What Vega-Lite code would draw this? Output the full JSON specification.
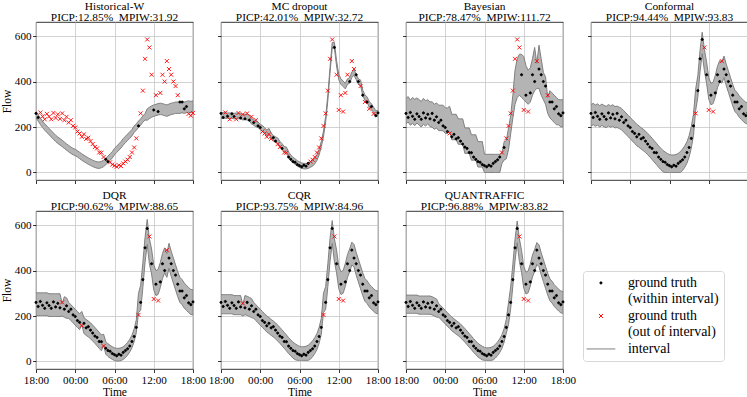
{
"$schema":"https://vega.github.io/schema/vega-lite/v6.json",
"padding":{"left":0,"top":0,"right":0,"bottom":0},
"config":{
 "font":"Liberation Serif",
 "view":{"stroke":"#000000","strokeWidth":0.8},
 "axis":{"domain":false,"grid":true,"gridColor":"#c8c8c8","gridWidth":0.8,"tickColor":"#000000","tickSize":3.5,"tickWidth":0.8,"labelFont":"Liberation Serif","labelFontSize":11.1,"labelColor":"#000000","labelPadding":1.5,"titleFont":"Liberation Serif","titleFontSize":11.5,"titleFontWeight":"normal","titleColor":"#000000"},
 "axisX":{"labelExpr":"['18:00','00:00','06:00','12:00','18:00'][round(datum.value/360)]","titlePadding":1,"labelFlush":false,"labelFont":"Liberation Serif"},
 "axisY":{"titlePadding":2,"labelFont":"Liberation Serif"},
 "title":{"font":"Liberation Serif","fontSize":11.4,"fontWeight":"normal","color":"#000000","lineHeight":11,"offset":-1,"anchor":"middle"},
 "legend":{"orient":"none","legendX":547,"legendY":249,"strokeColor":"#d8d8d8","fillColor":"#ffffff","cornerRadius":3,"padding":5,"labelFont":"Liberation Serif","labelFontSize":13.9,"labelColor":"#000000","symbolSize":16,"symbolStrokeWidth":1,"symbolOffset":6,"labelOffset":20,"rowPadding":2,"labelLimit":0,"title":null}
},
"data":{"values":[
{"m":"H","t":0,"y":260,"l":241,"u":269,"s":"i"},{"m":"H","t":20,"y":242,"l":226,"u":254,"s":"i"},{"m":"H","t":40,"y":264,"l":211,"u":239,"s":"o"},{"m":"H","t":60,"y":247,"l":198,"u":226,"s":"o"},{"m":"H","t":80,"y":234,"l":186,"u":214,"s":"o"},{"m":"H","t":100,"y":258,"l":176,"u":204,"s":"o"},{"m":"H","t":120,"y":246,"l":166,"u":194,"s":"o"},{"m":"H","t":140,"y":234,"l":156,"u":184,"s":"o"},{"m":"H","t":160,"y":262,"l":146,"u":174,"s":"o"},{"m":"H","t":180,"y":240,"l":136,"u":164,"s":"o"},{"m":"H","t":200,"y":256,"l":128,"u":156,"s":"o"},{"m":"H","t":220,"y":236,"l":121,"u":149,"s":"o"},{"m":"H","t":240,"y":260,"l":114,"u":142,"s":"o"},{"m":"H","t":260,"y":230,"l":106,"u":134,"s":"o"},{"m":"H","t":280,"y":245,"l":98,"u":126,"s":"o"},{"m":"H","t":300,"y":220,"l":91,"u":119,"s":"o"},{"m":"H","t":320,"y":230,"l":84,"u":112,"s":"o"},{"m":"H","t":340,"y":205,"l":78,"u":106,"s":"o"},{"m":"H","t":360,"y":198,"l":74,"u":102,"s":"o"},{"m":"H","t":380,"y":180,"l":68,"u":96,"s":"o"},{"m":"H","t":400,"y":172,"l":61,"u":89,"s":"o"},{"m":"H","t":420,"y":157,"l":54,"u":82,"s":"o"},{"m":"H","t":440,"y":168,"l":48,"u":76,"s":"o"},{"m":"H","t":460,"y":148,"l":42,"u":70,"s":"o"},{"m":"H","t":480,"y":153,"l":36,"u":64,"s":"o"},{"m":"H","t":500,"y":138,"l":31,"u":59,"s":"o"},{"m":"H","t":520,"y":125,"l":26,"u":54,"s":"o"},{"m":"H","t":540,"y":112,"l":22,"u":50,"s":"o"},{"m":"H","t":560,"y":106,"l":19,"u":47,"s":"o"},{"m":"H","t":580,"y":88,"l":18,"u":46,"s":"o"},{"m":"H","t":600,"y":87,"l":21,"u":49,"s":"o"},{"m":"H","t":620,"y":68,"l":26,"u":54,"s":"o"},{"m":"H","t":640,"y":58,"l":34,"u":62,"s":"i"},{"m":"H","t":660,"y":48,"l":44,"u":72,"s":"i"},{"m":"H","t":680,"y":45,"l":54,"u":82,"s":"o"},{"m":"H","t":700,"y":35,"l":64,"u":92,"s":"o"},{"m":"H","t":720,"y":30,"l":78,"u":106,"s":"o"},{"m":"H","t":740,"y":25,"l":88,"u":116,"s":"o"},{"m":"H","t":760,"y":32,"l":98,"u":126,"s":"o"},{"m":"H","t":780,"y":28,"l":108,"u":136,"s":"o"},{"m":"H","t":800,"y":40,"l":121,"u":149,"s":"o"},{"m":"H","t":820,"y":48,"l":131,"u":159,"s":"o"},{"m":"H","t":840,"y":56,"l":141,"u":169,"s":"o"},{"m":"H","t":860,"y":68,"l":151,"u":179,"s":"o"},{"m":"H","t":880,"y":88,"l":161,"u":189,"s":"o"},{"m":"H","t":900,"y":110,"l":176,"u":204,"s":"o"},{"m":"H","t":920,"y":150,"l":186,"u":214,"s":"o"},{"m":"H","t":940,"y":205,"l":198,"u":226,"s":"i"},{"m":"H","t":960,"y":260,"l":208,"u":236,"s":"o"},{"m":"H","t":980,"y":360,"l":221,"u":249,"s":"o"},{"m":"H","t":1000,"y":500,"l":231,"u":259,"s":"o"},{"m":"H","t":1020,"y":585,"l":230,"u":280,"s":"o"},{"m":"H","t":1040,"y":550,"l":237,"u":287,"s":"o"},{"m":"H","t":1060,"y":430,"l":243,"u":293,"s":"o"},{"m":"H","t":1080,"y":275,"l":247,"u":297,"s":"i"},{"m":"H","t":1100,"y":340,"l":250,"u":300,"s":"o"},{"m":"H","t":1120,"y":268,"l":253,"u":303,"s":"i"},{"m":"H","t":1140,"y":350,"l":255,"u":305,"s":"o"},{"m":"H","t":1160,"y":430,"l":253,"u":303,"s":"o"},{"m":"H","t":1180,"y":400,"l":250,"u":300,"s":"o"},{"m":"H","t":1200,"y":490,"l":247,"u":297,"s":"o"},{"m":"H","t":1220,"y":455,"l":251,"u":301,"s":"o"},{"m":"H","t":1240,"y":430,"l":255,"u":305,"s":"o"},{"m":"H","t":1260,"y":400,"l":257,"u":307,"s":"o"},{"m":"H","t":1280,"y":380,"l":260,"u":310,"s":"o"},{"m":"H","t":1300,"y":340,"l":260,"u":310,"s":"o"},{"m":"H","t":1320,"y":310,"l":260,"u":310,"s":"i"},{"m":"H","t":1340,"y":310,"l":263,"u":313,"s":"i"},{"m":"H","t":1360,"y":280,"l":260,"u":310,"s":"i"},{"m":"H","t":1380,"y":290,"l":263,"u":313,"s":"i"},{"m":"H","t":1400,"y":258,"l":265,"u":315,"s":"o"},{"m":"H","t":1420,"y":250,"l":263,"u":313,"s":"o"},{"m":"H","t":1440,"y":262,"l":265,"u":315,"s":"o"},
{"m":"M","t":0,"y":260,"l":238,"u":262,"s":"i"},{"m":"M","t":20,"y":242,"l":240,"u":264,"s":"i"},{"m":"M","t":40,"y":264,"l":238,"u":262,"s":"o"},{"m":"M","t":60,"y":247,"l":238,"u":262,"s":"i"},{"m":"M","t":80,"y":234,"l":238,"u":262,"s":"o"},{"m":"M","t":100,"y":258,"l":238,"u":262,"s":"i"},{"m":"M","t":120,"y":246,"l":236,"u":260,"s":"i"},{"m":"M","t":140,"y":234,"l":238,"u":262,"s":"o"},{"m":"M","t":160,"y":262,"l":236,"u":260,"s":"o"},{"m":"M","t":180,"y":240,"l":236,"u":260,"s":"i"},{"m":"M","t":200,"y":256,"l":231,"u":255,"s":"o"},{"m":"M","t":220,"y":236,"l":233,"u":257,"s":"i"},{"m":"M","t":240,"y":260,"l":231,"u":255,"s":"o"},{"m":"M","t":260,"y":230,"l":228,"u":252,"s":"i"},{"m":"M","t":280,"y":245,"l":213,"u":237,"s":"o"},{"m":"M","t":300,"y":220,"l":208,"u":232,"s":"i"},{"m":"M","t":320,"y":230,"l":201,"u":225,"s":"o"},{"m":"M","t":340,"y":205,"l":198,"u":222,"s":"i"},{"m":"M","t":360,"y":198,"l":188,"u":212,"s":"i"},{"m":"M","t":380,"y":180,"l":183,"u":207,"s":"o"},{"m":"M","t":400,"y":172,"l":173,"u":197,"s":"o"},{"m":"M","t":420,"y":157,"l":163,"u":187,"s":"o"},{"m":"M","t":440,"y":168,"l":170,"u":194,"s":"o"},{"m":"M","t":460,"y":148,"l":150,"u":174,"s":"o"},{"m":"M","t":480,"y":153,"l":138,"u":162,"s":"i"},{"m":"M","t":500,"y":138,"l":133,"u":157,"s":"i"},{"m":"M","t":520,"y":125,"l":128,"u":152,"s":"o"},{"m":"M","t":540,"y":112,"l":113,"u":137,"s":"o"},{"m":"M","t":560,"y":106,"l":103,"u":127,"s":"i"},{"m":"M","t":580,"y":88,"l":90,"u":114,"s":"o"},{"m":"M","t":600,"y":87,"l":88,"u":112,"s":"o"},{"m":"M","t":620,"y":68,"l":66,"u":90,"s":"i"},{"m":"M","t":640,"y":58,"l":53,"u":77,"s":"i"},{"m":"M","t":660,"y":48,"l":43,"u":67,"s":"i"},{"m":"M","t":680,"y":45,"l":36,"u":60,"s":"i"},{"m":"M","t":700,"y":35,"l":28,"u":52,"s":"i"},{"m":"M","t":720,"y":30,"l":23,"u":47,"s":"i"},{"m":"M","t":740,"y":25,"l":18,"u":42,"s":"i"},{"m":"M","t":760,"y":32,"l":16,"u":40,"s":"i"},{"m":"M","t":780,"y":28,"l":16,"u":40,"s":"i"},{"m":"M","t":800,"y":40,"l":18,"u":42,"s":"i"},{"m":"M","t":820,"y":48,"l":23,"u":47,"s":"o"},{"m":"M","t":840,"y":56,"l":28,"u":52,"s":"o"},{"m":"M","t":860,"y":68,"l":38,"u":62,"s":"o"},{"m":"M","t":880,"y":88,"l":53,"u":77,"s":"o"},{"m":"M","t":900,"y":110,"l":78,"u":102,"s":"o"},{"m":"M","t":920,"y":150,"l":113,"u":137,"s":"o"},{"m":"M","t":940,"y":205,"l":158,"u":182,"s":"o"},{"m":"M","t":960,"y":260,"l":223,"u":247,"s":"o"},{"m":"M","t":980,"y":360,"l":318,"u":342,"s":"o"},{"m":"M","t":1000,"y":500,"l":438,"u":462,"s":"o"},{"m":"M","t":1020,"y":585,"l":548,"u":572,"s":"o"},{"m":"M","t":1040,"y":550,"l":548,"u":572,"s":"i"},{"m":"M","t":1060,"y":430,"l":468,"u":492,"s":"o"},{"m":"M","t":1080,"y":275,"l":408,"u":432,"s":"o"},{"m":"M","t":1100,"y":340,"l":388,"u":412,"s":"o"},{"m":"M","t":1120,"y":268,"l":378,"u":402,"s":"o"},{"m":"M","t":1140,"y":350,"l":368,"u":392,"s":"o"},{"m":"M","t":1160,"y":430,"l":388,"u":412,"s":"o"},{"m":"M","t":1180,"y":400,"l":393,"u":417,"s":"i"},{"m":"M","t":1200,"y":490,"l":418,"u":442,"s":"o"},{"m":"M","t":1220,"y":455,"l":428,"u":452,"s":"o"},{"m":"M","t":1240,"y":430,"l":408,"u":432,"s":"i"},{"m":"M","t":1260,"y":400,"l":388,"u":412,"s":"i"},{"m":"M","t":1280,"y":380,"l":383,"u":407,"s":"o"},{"m":"M","t":1300,"y":340,"l":338,"u":362,"s":"i"},{"m":"M","t":1320,"y":310,"l":318,"u":342,"s":"o"},{"m":"M","t":1340,"y":310,"l":308,"u":332,"s":"i"},{"m":"M","t":1360,"y":280,"l":288,"u":312,"s":"o"},{"m":"M","t":1380,"y":290,"l":278,"u":302,"s":"i"},{"m":"M","t":1400,"y":258,"l":263,"u":287,"s":"o"},{"m":"M","t":1420,"y":250,"l":248,"u":272,"s":"i"},{"m":"M","t":1440,"y":262,"l":248,"u":272,"s":"i"},
{"m":"B","t":0,"y":260,"l":214,"u":326,"s":"i"},{"m":"B","t":20,"y":242,"l":222,"u":334,"s":"i"},{"m":"B","t":40,"y":264,"l":208,"u":318,"s":"i"},{"m":"B","t":60,"y":247,"l":216,"u":330,"s":"i"},{"m":"B","t":80,"y":234,"l":206,"u":322,"s":"i"},{"m":"B","t":100,"y":258,"l":218,"u":328,"s":"i"},{"m":"B","t":120,"y":246,"l":209,"u":321,"s":"i"},{"m":"B","t":140,"y":234,"l":200,"u":312,"s":"i"},{"m":"B","t":160,"y":262,"l":212,"u":326,"s":"i"},{"m":"B","t":180,"y":240,"l":205,"u":316,"s":"i"},{"m":"B","t":200,"y":256,"l":214,"u":320,"s":"i"},{"m":"B","t":220,"y":236,"l":202,"u":310,"s":"i"},{"m":"B","t":240,"y":260,"l":199,"u":311,"s":"i"},{"m":"B","t":260,"y":230,"l":190,"u":300,"s":"i"},{"m":"B","t":280,"y":245,"l":196,"u":306,"s":"i"},{"m":"B","t":300,"y":220,"l":184,"u":296,"s":"i"},{"m":"B","t":320,"y":230,"l":184,"u":296,"s":"i"},{"m":"B","t":340,"y":205,"l":184,"u":296,"s":"i"},{"m":"B","t":360,"y":198,"l":172,"u":284,"s":"i"},{"m":"B","t":380,"y":180,"l":172,"u":284,"s":"i"},{"m":"B","t":400,"y":172,"l":179,"u":291,"s":"o"},{"m":"B","t":420,"y":157,"l":144,"u":256,"s":"i"},{"m":"B","t":440,"y":168,"l":144,"u":256,"s":"i"},{"m":"B","t":460,"y":148,"l":144,"u":256,"s":"i"},{"m":"B","t":480,"y":153,"l":124,"u":236,"s":"i"},{"m":"B","t":500,"y":138,"l":124,"u":236,"s":"i"},{"m":"B","t":520,"y":125,"l":124,"u":236,"s":"i"},{"m":"B","t":540,"y":112,"l":84,"u":196,"s":"i"},{"m":"B","t":560,"y":106,"l":84,"u":196,"s":"i"},{"m":"B","t":580,"y":88,"l":84,"u":196,"s":"i"},{"m":"B","t":600,"y":87,"l":54,"u":166,"s":"i"},{"m":"B","t":620,"y":68,"l":54,"u":166,"s":"i"},{"m":"B","t":640,"y":58,"l":54,"u":166,"s":"i"},{"m":"B","t":660,"y":48,"l":24,"u":136,"s":"i"},{"m":"B","t":680,"y":45,"l":24,"u":136,"s":"i"},{"m":"B","t":700,"y":35,"l":24,"u":136,"s":"i"},{"m":"B","t":720,"y":30,"l":0,"u":80,"s":"i"},{"m":"B","t":740,"y":25,"l":0,"u":80,"s":"i"},{"m":"B","t":760,"y":32,"l":0,"u":80,"s":"i"},{"m":"B","t":780,"y":28,"l":0,"u":80,"s":"i"},{"m":"B","t":800,"y":40,"l":0,"u":80,"s":"i"},{"m":"B","t":820,"y":48,"l":0,"u":80,"s":"i"},{"m":"B","t":840,"y":56,"l":0,"u":80,"s":"i"},{"m":"B","t":860,"y":68,"l":0,"u":80,"s":"i"},{"m":"B","t":880,"y":88,"l":40,"u":85,"s":"o"},{"m":"B","t":900,"y":110,"l":55,"u":135,"s":"i"},{"m":"B","t":920,"y":150,"l":60,"u":140,"s":"o"},{"m":"B","t":940,"y":205,"l":100,"u":195,"s":"o"},{"m":"B","t":960,"y":260,"l":170,"u":250,"s":"o"},{"m":"B","t":980,"y":360,"l":240,"u":340,"s":"o"},{"m":"B","t":1000,"y":500,"l":300,"u":450,"s":"o"},{"m":"B","t":1020,"y":585,"l":330,"u":500,"s":"o"},{"m":"B","t":1040,"y":550,"l":340,"u":520,"s":"o"},{"m":"B","t":1060,"y":430,"l":330,"u":520,"s":"i"},{"m":"B","t":1080,"y":275,"l":320,"u":510,"s":"o"},{"m":"B","t":1100,"y":340,"l":310,"u":470,"s":"i"},{"m":"B","t":1120,"y":268,"l":300,"u":450,"s":"o"},{"m":"B","t":1140,"y":350,"l":310,"u":460,"s":"i"},{"m":"B","t":1160,"y":430,"l":340,"u":500,"s":"i"},{"m":"B","t":1180,"y":400,"l":360,"u":550,"s":"i"},{"m":"B","t":1200,"y":490,"l":370,"u":480,"s":"o"},{"m":"B","t":1220,"y":455,"l":370,"u":560,"s":"i"},{"m":"B","t":1240,"y":430,"l":340,"u":500,"s":"i"},{"m":"B","t":1260,"y":400,"l":320,"u":440,"s":"i"},{"m":"B","t":1280,"y":380,"l":300,"u":420,"s":"i"},{"m":"B","t":1300,"y":340,"l":260,"u":330,"s":"o"},{"m":"B","t":1320,"y":310,"l":240,"u":360,"s":"i"},{"m":"B","t":1340,"y":310,"l":230,"u":350,"s":"i"},{"m":"B","t":1360,"y":280,"l":220,"u":340,"s":"i"},{"m":"B","t":1380,"y":290,"l":210,"u":330,"s":"i"},{"m":"B","t":1400,"y":258,"l":210,"u":320,"s":"i"},{"m":"B","t":1420,"y":250,"l":200,"u":320,"s":"i"},{"m":"B","t":1440,"y":262,"l":200,"u":320,"s":"i"},
{"m":"C","t":0,"y":260,"l":205,"u":299,"s":"i"},{"m":"C","t":20,"y":242,"l":210,"u":304,"s":"i"},{"m":"C","t":40,"y":264,"l":203,"u":297,"s":"i"},{"m":"C","t":60,"y":247,"l":208,"u":302,"s":"i"},{"m":"C","t":80,"y":234,"l":200,"u":294,"s":"i"},{"m":"C","t":100,"y":258,"l":207,"u":301,"s":"i"},{"m":"C","t":120,"y":246,"l":201,"u":295,"s":"i"},{"m":"C","t":140,"y":234,"l":197,"u":291,"s":"i"},{"m":"C","t":160,"y":262,"l":205,"u":299,"s":"i"},{"m":"C","t":180,"y":240,"l":199,"u":293,"s":"i"},{"m":"C","t":200,"y":256,"l":204,"u":298,"s":"i"},{"m":"C","t":220,"y":236,"l":196,"u":290,"s":"i"},{"m":"C","t":240,"y":260,"l":198,"u":292,"s":"i"},{"m":"C","t":260,"y":230,"l":193,"u":287,"s":"i"},{"m":"C","t":280,"y":245,"l":188,"u":282,"s":"i"},{"m":"C","t":300,"y":220,"l":178,"u":272,"s":"i"},{"m":"C","t":320,"y":230,"l":168,"u":262,"s":"i"},{"m":"C","t":340,"y":205,"l":158,"u":252,"s":"i"},{"m":"C","t":360,"y":198,"l":148,"u":242,"s":"i"},{"m":"C","t":380,"y":180,"l":138,"u":232,"s":"i"},{"m":"C","t":400,"y":172,"l":128,"u":222,"s":"i"},{"m":"C","t":420,"y":157,"l":118,"u":212,"s":"i"},{"m":"C","t":440,"y":168,"l":111,"u":205,"s":"i"},{"m":"C","t":460,"y":148,"l":103,"u":197,"s":"i"},{"m":"C","t":480,"y":153,"l":96,"u":190,"s":"i"},{"m":"C","t":500,"y":138,"l":88,"u":182,"s":"i"},{"m":"C","t":520,"y":125,"l":78,"u":172,"s":"i"},{"m":"C","t":540,"y":112,"l":68,"u":162,"s":"i"},{"m":"C","t":560,"y":106,"l":57,"u":151,"s":"i"},{"m":"C","t":580,"y":88,"l":46,"u":140,"s":"i"},{"m":"C","t":600,"y":87,"l":35,"u":129,"s":"i"},{"m":"C","t":620,"y":68,"l":23,"u":117,"s":"i"},{"m":"C","t":640,"y":58,"l":13,"u":107,"s":"i"},{"m":"C","t":660,"y":48,"l":3,"u":97,"s":"i"},{"m":"C","t":680,"y":45,"l":0,"u":90,"s":"i"},{"m":"C","t":700,"y":35,"l":0,"u":84,"s":"i"},{"m":"C","t":720,"y":30,"l":0,"u":79,"s":"i"},{"m":"C","t":740,"y":25,"l":0,"u":77,"s":"i"},{"m":"C","t":760,"y":32,"l":0,"u":77,"s":"i"},{"m":"C","t":780,"y":28,"l":0,"u":79,"s":"i"},{"m":"C","t":800,"y":40,"l":0,"u":84,"s":"i"},{"m":"C","t":820,"y":48,"l":0,"u":92,"s":"i"},{"m":"C","t":840,"y":56,"l":9,"u":103,"s":"i"},{"m":"C","t":860,"y":68,"l":23,"u":117,"s":"i"},{"m":"C","t":880,"y":88,"l":41,"u":135,"s":"i"},{"m":"C","t":900,"y":110,"l":68,"u":162,"s":"i"},{"m":"C","t":920,"y":150,"l":108,"u":202,"s":"i"},{"m":"C","t":940,"y":205,"l":163,"u":257,"s":"i"},{"m":"C","t":960,"y":260,"l":273,"u":367,"s":"o"},{"m":"C","t":980,"y":360,"l":333,"u":427,"s":"i"},{"m":"C","t":1000,"y":500,"l":443,"u":537,"s":"i"},{"m":"C","t":1020,"y":585,"l":523,"u":617,"s":"i"},{"m":"C","t":1040,"y":550,"l":448,"u":542,"s":"o"},{"m":"C","t":1060,"y":430,"l":393,"u":487,"s":"i"},{"m":"C","t":1080,"y":275,"l":323,"u":417,"s":"o"},{"m":"C","t":1100,"y":340,"l":298,"u":392,"s":"i"},{"m":"C","t":1120,"y":268,"l":303,"u":397,"s":"o"},{"m":"C","t":1140,"y":350,"l":333,"u":427,"s":"i"},{"m":"C","t":1160,"y":430,"l":373,"u":467,"s":"i"},{"m":"C","t":1180,"y":400,"l":398,"u":492,"s":"i"},{"m":"C","t":1200,"y":490,"l":393,"u":487,"s":"o"},{"m":"C","t":1220,"y":455,"l":418,"u":512,"s":"i"},{"m":"C","t":1240,"y":430,"l":383,"u":477,"s":"i"},{"m":"C","t":1260,"y":400,"l":353,"u":447,"s":"i"},{"m":"C","t":1280,"y":380,"l":323,"u":417,"s":"i"},{"m":"C","t":1300,"y":340,"l":293,"u":387,"s":"i"},{"m":"C","t":1320,"y":310,"l":268,"u":362,"s":"i"},{"m":"C","t":1340,"y":310,"l":258,"u":352,"s":"i"},{"m":"C","t":1360,"y":280,"l":243,"u":337,"s":"i"},{"m":"C","t":1380,"y":290,"l":233,"u":327,"s":"i"},{"m":"C","t":1400,"y":258,"l":223,"u":317,"s":"i"},{"m":"C","t":1420,"y":250,"l":215,"u":309,"s":"i"},{"m":"C","t":1440,"y":262,"l":213,"u":307,"s":"i"},
{"m":"D","t":0,"y":260,"l":202,"u":302,"s":"i"},{"m":"D","t":20,"y":242,"l":202,"u":302,"s":"i"},{"m":"D","t":40,"y":264,"l":202,"u":302,"s":"i"},{"m":"D","t":60,"y":247,"l":202,"u":302,"s":"i"},{"m":"D","t":80,"y":234,"l":202,"u":302,"s":"i"},{"m":"D","t":100,"y":258,"l":202,"u":302,"s":"i"},{"m":"D","t":120,"y":246,"l":198,"u":298,"s":"i"},{"m":"D","t":140,"y":234,"l":198,"u":298,"s":"i"},{"m":"D","t":160,"y":262,"l":198,"u":298,"s":"i"},{"m":"D","t":180,"y":240,"l":198,"u":298,"s":"i"},{"m":"D","t":200,"y":256,"l":198,"u":298,"s":"i"},{"m":"D","t":220,"y":236,"l":198,"u":298,"s":"i"},{"m":"D","t":240,"y":260,"l":200,"u":255,"s":"o"},{"m":"D","t":260,"y":230,"l":195,"u":285,"s":"i"},{"m":"D","t":280,"y":245,"l":190,"u":280,"s":"i"},{"m":"D","t":300,"y":220,"l":190,"u":260,"s":"i"},{"m":"D","t":320,"y":230,"l":180,"u":250,"s":"i"},{"m":"D","t":340,"y":205,"l":170,"u":240,"s":"i"},{"m":"D","t":360,"y":198,"l":160,"u":230,"s":"i"},{"m":"D","t":380,"y":180,"l":150,"u":220,"s":"i"},{"m":"D","t":400,"y":172,"l":140,"u":210,"s":"i"},{"m":"D","t":420,"y":157,"l":162,"u":220,"s":"o"},{"m":"D","t":440,"y":168,"l":123,"u":193,"s":"i"},{"m":"D","t":460,"y":148,"l":115,"u":185,"s":"i"},{"m":"D","t":480,"y":153,"l":108,"u":178,"s":"i"},{"m":"D","t":500,"y":138,"l":100,"u":170,"s":"i"},{"m":"D","t":520,"y":125,"l":90,"u":160,"s":"i"},{"m":"D","t":540,"y":112,"l":80,"u":150,"s":"i"},{"m":"D","t":560,"y":106,"l":69,"u":139,"s":"i"},{"m":"D","t":580,"y":88,"l":58,"u":128,"s":"i"},{"m":"D","t":600,"y":87,"l":47,"u":117,"s":"i"},{"m":"D","t":620,"y":68,"l":72,"u":120,"s":"o"},{"m":"D","t":640,"y":58,"l":32,"u":88,"s":"i"},{"m":"D","t":660,"y":48,"l":22,"u":78,"s":"i"},{"m":"D","t":680,"y":45,"l":15,"u":71,"s":"i"},{"m":"D","t":700,"y":35,"l":9,"u":65,"s":"i"},{"m":"D","t":720,"y":30,"l":4,"u":60,"s":"i"},{"m":"D","t":740,"y":25,"l":2,"u":58,"s":"i"},{"m":"D","t":760,"y":32,"l":2,"u":58,"s":"i"},{"m":"D","t":780,"y":28,"l":4,"u":60,"s":"i"},{"m":"D","t":800,"y":40,"l":9,"u":65,"s":"i"},{"m":"D","t":820,"y":48,"l":17,"u":73,"s":"i"},{"m":"D","t":840,"y":56,"l":28,"u":84,"s":"i"},{"m":"D","t":860,"y":68,"l":42,"u":98,"s":"i"},{"m":"D","t":880,"y":88,"l":60,"u":116,"s":"i"},{"m":"D","t":900,"y":110,"l":87,"u":143,"s":"i"},{"m":"D","t":920,"y":150,"l":127,"u":183,"s":"i"},{"m":"D","t":940,"y":205,"l":215,"u":300,"s":"o"},{"m":"D","t":960,"y":260,"l":225,"u":335,"s":"i"},{"m":"D","t":980,"y":360,"l":325,"u":435,"s":"i"},{"m":"D","t":1000,"y":500,"l":435,"u":545,"s":"i"},{"m":"D","t":1020,"y":585,"l":515,"u":625,"s":"i"},{"m":"D","t":1040,"y":550,"l":430,"u":540,"s":"o"},{"m":"D","t":1060,"y":430,"l":385,"u":495,"s":"i"},{"m":"D","t":1080,"y":275,"l":315,"u":425,"s":"o"},{"m":"D","t":1100,"y":340,"l":290,"u":400,"s":"i"},{"m":"D","t":1120,"y":268,"l":295,"u":405,"s":"o"},{"m":"D","t":1140,"y":350,"l":325,"u":435,"s":"i"},{"m":"D","t":1160,"y":430,"l":365,"u":475,"s":"i"},{"m":"D","t":1180,"y":400,"l":390,"u":500,"s":"i"},{"m":"D","t":1200,"y":490,"l":370,"u":475,"s":"o"},{"m":"D","t":1220,"y":455,"l":410,"u":520,"s":"i"},{"m":"D","t":1240,"y":430,"l":375,"u":485,"s":"i"},{"m":"D","t":1260,"y":400,"l":345,"u":455,"s":"i"},{"m":"D","t":1280,"y":380,"l":315,"u":425,"s":"i"},{"m":"D","t":1300,"y":340,"l":285,"u":395,"s":"i"},{"m":"D","t":1320,"y":310,"l":260,"u":370,"s":"i"},{"m":"D","t":1340,"y":310,"l":250,"u":360,"s":"i"},{"m":"D","t":1360,"y":280,"l":235,"u":345,"s":"i"},{"m":"D","t":1380,"y":290,"l":225,"u":335,"s":"i"},{"m":"D","t":1400,"y":258,"l":215,"u":325,"s":"i"},{"m":"D","t":1420,"y":250,"l":207,"u":317,"s":"i"},{"m":"D","t":1440,"y":262,"l":205,"u":315,"s":"i"},
{"m":"Q","t":0,"y":260,"l":210,"u":294,"s":"i"},{"m":"Q","t":20,"y":242,"l":210,"u":294,"s":"i"},{"m":"Q","t":40,"y":264,"l":210,"u":294,"s":"i"},{"m":"Q","t":60,"y":247,"l":210,"u":294,"s":"i"},{"m":"Q","t":80,"y":234,"l":210,"u":294,"s":"i"},{"m":"Q","t":100,"y":258,"l":210,"u":294,"s":"i"},{"m":"Q","t":120,"y":246,"l":206,"u":290,"s":"i"},{"m":"Q","t":140,"y":234,"l":206,"u":290,"s":"i"},{"m":"Q","t":160,"y":262,"l":206,"u":290,"s":"i"},{"m":"Q","t":180,"y":240,"l":206,"u":290,"s":"i"},{"m":"Q","t":200,"y":256,"l":200,"u":250,"s":"o"},{"m":"Q","t":220,"y":236,"l":206,"u":290,"s":"i"},{"m":"Q","t":240,"y":260,"l":203,"u":287,"s":"i"},{"m":"Q","t":260,"y":230,"l":198,"u":282,"s":"i"},{"m":"Q","t":280,"y":245,"l":193,"u":277,"s":"i"},{"m":"Q","t":300,"y":220,"l":190,"u":260,"s":"i"},{"m":"Q","t":320,"y":230,"l":180,"u":250,"s":"i"},{"m":"Q","t":340,"y":205,"l":170,"u":240,"s":"i"},{"m":"Q","t":360,"y":198,"l":160,"u":230,"s":"i"},{"m":"Q","t":380,"y":180,"l":150,"u":220,"s":"i"},{"m":"Q","t":400,"y":172,"l":140,"u":210,"s":"i"},{"m":"Q","t":420,"y":157,"l":130,"u":200,"s":"i"},{"m":"Q","t":440,"y":168,"l":123,"u":193,"s":"i"},{"m":"Q","t":460,"y":148,"l":115,"u":185,"s":"i"},{"m":"Q","t":480,"y":153,"l":108,"u":178,"s":"i"},{"m":"Q","t":500,"y":138,"l":100,"u":170,"s":"i"},{"m":"Q","t":520,"y":125,"l":90,"u":160,"s":"i"},{"m":"Q","t":540,"y":112,"l":80,"u":150,"s":"i"},{"m":"Q","t":560,"y":106,"l":69,"u":139,"s":"i"},{"m":"Q","t":580,"y":88,"l":58,"u":128,"s":"i"},{"m":"Q","t":600,"y":87,"l":47,"u":117,"s":"i"},{"m":"Q","t":620,"y":68,"l":35,"u":105,"s":"i"},{"m":"Q","t":640,"y":58,"l":25,"u":95,"s":"i"},{"m":"Q","t":660,"y":48,"l":15,"u":85,"s":"i"},{"m":"Q","t":680,"y":45,"l":8,"u":78,"s":"i"},{"m":"Q","t":700,"y":35,"l":5,"u":72,"s":"i"},{"m":"Q","t":720,"y":30,"l":5,"u":67,"s":"i"},{"m":"Q","t":740,"y":25,"l":5,"u":65,"s":"i"},{"m":"Q","t":760,"y":32,"l":5,"u":65,"s":"i"},{"m":"Q","t":780,"y":28,"l":5,"u":67,"s":"i"},{"m":"Q","t":800,"y":40,"l":5,"u":72,"s":"i"},{"m":"Q","t":820,"y":48,"l":10,"u":80,"s":"i"},{"m":"Q","t":840,"y":56,"l":21,"u":91,"s":"i"},{"m":"Q","t":860,"y":68,"l":35,"u":105,"s":"i"},{"m":"Q","t":880,"y":88,"l":53,"u":123,"s":"i"},{"m":"Q","t":900,"y":110,"l":80,"u":150,"s":"i"},{"m":"Q","t":920,"y":150,"l":120,"u":190,"s":"i"},{"m":"Q","t":940,"y":205,"l":215,"u":300,"s":"o"},{"m":"Q","t":960,"y":260,"l":230,"u":330,"s":"i"},{"m":"Q","t":980,"y":360,"l":330,"u":430,"s":"i"},{"m":"Q","t":1000,"y":500,"l":440,"u":540,"s":"i"},{"m":"Q","t":1020,"y":585,"l":520,"u":620,"s":"i"},{"m":"Q","t":1040,"y":550,"l":440,"u":540,"s":"o"},{"m":"Q","t":1060,"y":430,"l":390,"u":490,"s":"i"},{"m":"Q","t":1080,"y":275,"l":320,"u":420,"s":"o"},{"m":"Q","t":1100,"y":340,"l":295,"u":395,"s":"i"},{"m":"Q","t":1120,"y":268,"l":300,"u":400,"s":"o"},{"m":"Q","t":1140,"y":350,"l":330,"u":430,"s":"i"},{"m":"Q","t":1160,"y":430,"l":370,"u":470,"s":"i"},{"m":"Q","t":1180,"y":400,"l":395,"u":495,"s":"i"},{"m":"Q","t":1200,"y":490,"l":425,"u":525,"s":"i"},{"m":"Q","t":1220,"y":455,"l":415,"u":515,"s":"i"},{"m":"Q","t":1240,"y":430,"l":380,"u":480,"s":"i"},{"m":"Q","t":1260,"y":400,"l":350,"u":450,"s":"i"},{"m":"Q","t":1280,"y":380,"l":320,"u":420,"s":"i"},{"m":"Q","t":1300,"y":340,"l":290,"u":390,"s":"i"},{"m":"Q","t":1320,"y":310,"l":265,"u":365,"s":"i"},{"m":"Q","t":1340,"y":310,"l":255,"u":355,"s":"i"},{"m":"Q","t":1360,"y":280,"l":240,"u":340,"s":"i"},{"m":"Q","t":1380,"y":290,"l":230,"u":330,"s":"i"},{"m":"Q","t":1400,"y":258,"l":220,"u":320,"s":"i"},{"m":"Q","t":1420,"y":250,"l":212,"u":312,"s":"i"},{"m":"Q","t":1440,"y":262,"l":210,"u":310,"s":"i"},
{"m":"T","t":0,"y":260,"l":212,"u":292,"s":"i"},{"m":"T","t":20,"y":242,"l":212,"u":292,"s":"i"},{"m":"T","t":40,"y":264,"l":212,"u":292,"s":"i"},{"m":"T","t":60,"y":247,"l":212,"u":292,"s":"i"},{"m":"T","t":80,"y":234,"l":212,"u":292,"s":"i"},{"m":"T","t":100,"y":258,"l":212,"u":292,"s":"i"},{"m":"T","t":120,"y":246,"l":208,"u":288,"s":"i"},{"m":"T","t":140,"y":234,"l":208,"u":288,"s":"i"},{"m":"T","t":160,"y":262,"l":208,"u":288,"s":"i"},{"m":"T","t":180,"y":240,"l":208,"u":288,"s":"i"},{"m":"T","t":200,"y":256,"l":208,"u":288,"s":"i"},{"m":"T","t":220,"y":236,"l":208,"u":288,"s":"i"},{"m":"T","t":240,"y":260,"l":205,"u":285,"s":"i"},{"m":"T","t":260,"y":230,"l":200,"u":280,"s":"i"},{"m":"T","t":280,"y":245,"l":195,"u":275,"s":"i"},{"m":"T","t":300,"y":220,"l":195,"u":255,"s":"i"},{"m":"T","t":320,"y":230,"l":185,"u":245,"s":"i"},{"m":"T","t":340,"y":205,"l":175,"u":235,"s":"i"},{"m":"T","t":360,"y":198,"l":165,"u":225,"s":"i"},{"m":"T","t":380,"y":180,"l":155,"u":215,"s":"i"},{"m":"T","t":400,"y":172,"l":145,"u":205,"s":"i"},{"m":"T","t":420,"y":157,"l":135,"u":195,"s":"i"},{"m":"T","t":440,"y":168,"l":128,"u":188,"s":"i"},{"m":"T","t":460,"y":148,"l":120,"u":180,"s":"i"},{"m":"T","t":480,"y":153,"l":113,"u":173,"s":"i"},{"m":"T","t":500,"y":138,"l":105,"u":165,"s":"i"},{"m":"T","t":520,"y":125,"l":95,"u":155,"s":"i"},{"m":"T","t":540,"y":112,"l":85,"u":145,"s":"i"},{"m":"T","t":560,"y":106,"l":74,"u":134,"s":"i"},{"m":"T","t":580,"y":88,"l":63,"u":123,"s":"i"},{"m":"T","t":600,"y":87,"l":52,"u":112,"s":"i"},{"m":"T","t":620,"y":68,"l":40,"u":100,"s":"i"},{"m":"T","t":640,"y":58,"l":30,"u":90,"s":"i"},{"m":"T","t":660,"y":48,"l":20,"u":80,"s":"i"},{"m":"T","t":680,"y":45,"l":13,"u":73,"s":"i"},{"m":"T","t":700,"y":35,"l":7,"u":67,"s":"i"},{"m":"T","t":720,"y":30,"l":5,"u":62,"s":"i"},{"m":"T","t":740,"y":25,"l":5,"u":60,"s":"i"},{"m":"T","t":760,"y":32,"l":5,"u":60,"s":"i"},{"m":"T","t":780,"y":28,"l":5,"u":62,"s":"i"},{"m":"T","t":800,"y":40,"l":7,"u":67,"s":"i"},{"m":"T","t":820,"y":48,"l":15,"u":75,"s":"i"},{"m":"T","t":840,"y":56,"l":26,"u":86,"s":"i"},{"m":"T","t":860,"y":68,"l":40,"u":100,"s":"i"},{"m":"T","t":880,"y":88,"l":58,"u":118,"s":"i"},{"m":"T","t":900,"y":110,"l":85,"u":145,"s":"i"},{"m":"T","t":920,"y":150,"l":125,"u":185,"s":"i"},{"m":"T","t":940,"y":205,"l":162,"u":258,"s":"i"},{"m":"T","t":960,"y":260,"l":232,"u":328,"s":"i"},{"m":"T","t":980,"y":360,"l":332,"u":428,"s":"i"},{"m":"T","t":1000,"y":500,"l":442,"u":538,"s":"i"},{"m":"T","t":1020,"y":585,"l":522,"u":618,"s":"i"},{"m":"T","t":1040,"y":550,"l":440,"u":540,"s":"o"},{"m":"T","t":1060,"y":430,"l":392,"u":488,"s":"i"},{"m":"T","t":1080,"y":275,"l":322,"u":418,"s":"o"},{"m":"T","t":1100,"y":340,"l":297,"u":393,"s":"i"},{"m":"T","t":1120,"y":268,"l":302,"u":398,"s":"o"},{"m":"T","t":1140,"y":350,"l":332,"u":428,"s":"i"},{"m":"T","t":1160,"y":430,"l":372,"u":468,"s":"i"},{"m":"T","t":1180,"y":400,"l":397,"u":493,"s":"i"},{"m":"T","t":1200,"y":490,"l":427,"u":523,"s":"i"},{"m":"T","t":1220,"y":455,"l":417,"u":513,"s":"i"},{"m":"T","t":1240,"y":430,"l":382,"u":478,"s":"i"},{"m":"T","t":1260,"y":400,"l":352,"u":448,"s":"i"},{"m":"T","t":1280,"y":380,"l":322,"u":418,"s":"i"},{"m":"T","t":1300,"y":340,"l":292,"u":388,"s":"i"},{"m":"T","t":1320,"y":310,"l":267,"u":363,"s":"i"},{"m":"T","t":1340,"y":310,"l":257,"u":353,"s":"i"},{"m":"T","t":1360,"y":280,"l":242,"u":338,"s":"i"},{"m":"T","t":1380,"y":290,"l":232,"u":328,"s":"i"},{"m":"T","t":1400,"y":258,"l":222,"u":318,"s":"i"},{"m":"T","t":1420,"y":250,"l":214,"u":310,"s":"i"},{"m":"T","t":1440,"y":262,"l":212,"u":308,"s":"i"}
]},
"columns":4,
"spacing":{"row":31,"column":28},
"bounds":"flush",
"concat":[
 {"width":157,"height":158,"title":{"text":["Historical-W","PICP:12.85%\u00a0 MPIW:31.92"]},"transform":[{"filter":"datum.m=='H'"}],
  "encoding":{"x":{"field":"t","type":"quantitative","scale":{"domain":[0,1440],"nice":false,"zero":false},"axis":{"values":[0,360,720,1080,1440],"labels":false,"title":null}}},
  "layer":[
   {"mark":{"type":"area","fill":"#b4b4b4","stroke":"#808080","strokeWidth":1,"clip":true},"encoding":{"y":{"field":"l","type":"quantitative","scale":{"domain":[-33,662],"nice":false,"zero":false},"axis":{"values":[0,200,400,600],"title":"Flow"}},"y2":{"field":"u"}}},
   {"mark":{"type":"point","size":16,"opacity":1,"strokeWidth":0.9,"filled":true},"encoding":{"y":{"field":"y","type":"quantitative"},
    "shape":{"field":"s","type":"nominal","scale":{"domain":["i","o","v"],"range":["M-0.55,0A0.55,0.55 0 1,0 0.55,0A0.55,0.55 0 1,0 -0.55,0Z","M-1,-1L1,1M-1,1L1,-1","M-7.2,0L7.2,0"]},"legend":{"labelExpr":"datum.value=='i'?['ground truth','(within interval)']:datum.value=='o'?['ground truth','(out of interval)']:'interval'"}},
    "fill":{"field":"s","type":"nominal","scale":{"domain":["i","o","v"],"range":["#000000","#ff0000","#808080"]},"legend":{"labelExpr":"datum.value=='i'?['ground truth','(within interval)']:datum.value=='o'?['ground truth','(out of interval)']:'interval'"}},
    "stroke":{"field":"s","type":"nominal","scale":{"domain":["i","o","v"],"range":["#000000","#ff0000","#808080"]},"legend":{"labelExpr":"datum.value=='i'?['ground truth','(within interval)']:datum.value=='o'?['ground truth','(out of interval)']:'interval'"}}}}
  ]},
 {"width":157,"height":158,"title":{"text":["MC dropout","PICP:42.01%\u00a0 MPIW:32.72"]},"transform":[{"filter":"datum.m=='M'"}],
  "encoding":{"x":{"field":"t","type":"quantitative","scale":{"domain":[0,1440],"nice":false,"zero":false},"axis":{"values":[0,360,720,1080,1440],"labels":false,"title":null}}},
  "layer":[
   {"mark":{"type":"area","fill":"#b4b4b4","stroke":"#808080","strokeWidth":1,"clip":true},"encoding":{"y":{"field":"l","type":"quantitative","scale":{"domain":[-33,662],"nice":false,"zero":false},"axis":{"values":[0,200,400,600],"labels":false,"title":null}},"y2":{"field":"u"}}},
   {"mark":{"type":"point","size":16,"opacity":1,"strokeWidth":0.9,"filled":true},"encoding":{"y":{"field":"y","type":"quantitative"},
    "shape":{"field":"s","type":"nominal","scale":{"domain":["i","o","v"],"range":["M-0.55,0A0.55,0.55 0 1,0 0.55,0A0.55,0.55 0 1,0 -0.55,0Z","M-1,-1L1,1M-1,1L1,-1","M-7.2,0L7.2,0"]},"legend":{"labelExpr":"datum.value=='i'?['ground truth','(within interval)']:datum.value=='o'?['ground truth','(out of interval)']:'interval'"}},
    "fill":{"field":"s","type":"nominal","scale":{"domain":["i","o","v"],"range":["#000000","#ff0000","#808080"]},"legend":{"labelExpr":"datum.value=='i'?['ground truth','(within interval)']:datum.value=='o'?['ground truth','(out of interval)']:'interval'"}},
    "stroke":{"field":"s","type":"nominal","scale":{"domain":["i","o","v"],"range":["#000000","#ff0000","#808080"]},"legend":{"labelExpr":"datum.value=='i'?['ground truth','(within interval)']:datum.value=='o'?['ground truth','(out of interval)']:'interval'"}}}}
  ]},
 {"width":157,"height":158,"title":{"text":["Bayesian","PICP:78.47%\u00a0 MPIW:111.72"]},"transform":[{"filter":"datum.m=='B'"}],
  "encoding":{"x":{"field":"t","type":"quantitative","scale":{"domain":[0,1440],"nice":false,"zero":false},"axis":{"values":[0,360,720,1080,1440],"labels":false,"title":null}}},
  "layer":[
   {"mark":{"type":"area","fill":"#b4b4b4","stroke":"#808080","strokeWidth":1,"clip":true},"encoding":{"y":{"field":"l","type":"quantitative","scale":{"domain":[-33,662],"nice":false,"zero":false},"axis":{"values":[0,200,400,600],"labels":false,"title":null}},"y2":{"field":"u"}}},
   {"mark":{"type":"point","size":16,"opacity":1,"strokeWidth":0.9,"filled":true},"encoding":{"y":{"field":"y","type":"quantitative"},
    "shape":{"field":"s","type":"nominal","scale":{"domain":["i","o","v"],"range":["M-0.55,0A0.55,0.55 0 1,0 0.55,0A0.55,0.55 0 1,0 -0.55,0Z","M-1,-1L1,1M-1,1L1,-1","M-7.2,0L7.2,0"]},"legend":{"labelExpr":"datum.value=='i'?['ground truth','(within interval)']:datum.value=='o'?['ground truth','(out of interval)']:'interval'"}},
    "fill":{"field":"s","type":"nominal","scale":{"domain":["i","o","v"],"range":["#000000","#ff0000","#808080"]},"legend":{"labelExpr":"datum.value=='i'?['ground truth','(within interval)']:datum.value=='o'?['ground truth','(out of interval)']:'interval'"}},
    "stroke":{"field":"s","type":"nominal","scale":{"domain":["i","o","v"],"range":["#000000","#ff0000","#808080"]},"legend":{"labelExpr":"datum.value=='i'?['ground truth','(within interval)']:datum.value=='o'?['ground truth','(out of interval)']:'interval'"}}}}
  ]},
 {"width":157,"height":158,"title":{"text":["Conformal","PICP:94.44%\u00a0 MPIW:93.83"]},"transform":[{"filter":"datum.m=='C'"}],
  "encoding":{"x":{"field":"t","type":"quantitative","scale":{"domain":[0,1440],"nice":false,"zero":false},"axis":{"values":[0,360,720,1080,1440],"labels":false,"title":null}}},
  "layer":[
   {"mark":{"type":"area","fill":"#b4b4b4","stroke":"#808080","strokeWidth":1,"clip":true},"encoding":{"y":{"field":"l","type":"quantitative","scale":{"domain":[-33,662],"nice":false,"zero":false},"axis":{"values":[0,200,400,600],"labels":false,"title":null}},"y2":{"field":"u"}}},
   {"mark":{"type":"point","size":16,"opacity":1,"strokeWidth":0.9,"filled":true},"encoding":{"y":{"field":"y","type":"quantitative"},
    "shape":{"field":"s","type":"nominal","scale":{"domain":["i","o","v"],"range":["M-0.55,0A0.55,0.55 0 1,0 0.55,0A0.55,0.55 0 1,0 -0.55,0Z","M-1,-1L1,1M-1,1L1,-1","M-7.2,0L7.2,0"]},"legend":{"labelExpr":"datum.value=='i'?['ground truth','(within interval)']:datum.value=='o'?['ground truth','(out of interval)']:'interval'"}},
    "fill":{"field":"s","type":"nominal","scale":{"domain":["i","o","v"],"range":["#000000","#ff0000","#808080"]},"legend":{"labelExpr":"datum.value=='i'?['ground truth','(within interval)']:datum.value=='o'?['ground truth','(out of interval)']:'interval'"}},
    "stroke":{"field":"s","type":"nominal","scale":{"domain":["i","o","v"],"range":["#000000","#ff0000","#808080"]},"legend":{"labelExpr":"datum.value=='i'?['ground truth','(within interval)']:datum.value=='o'?['ground truth','(out of interval)']:'interval'"}}}}
  ]},
 {"width":157,"height":158,"title":{"text":["DQR","PICP:90.62%\u00a0 MPIW:88.65"]},"transform":[{"filter":"datum.m=='D'"}],
  "encoding":{"x":{"field":"t","type":"quantitative","scale":{"domain":[0,1440],"nice":false,"zero":false},"axis":{"values":[0,360,720,1080,1440],"title":"Time"}}},
  "layer":[
   {"mark":{"type":"area","fill":"#b4b4b4","stroke":"#808080","strokeWidth":1,"clip":true},"encoding":{"y":{"field":"l","type":"quantitative","scale":{"domain":[-33,662],"nice":false,"zero":false},"axis":{"values":[0,200,400,600],"title":"Flow"}},"y2":{"field":"u"}}},
   {"mark":{"type":"point","size":16,"opacity":1,"strokeWidth":0.9,"filled":true},"encoding":{"y":{"field":"y","type":"quantitative"},
    "shape":{"field":"s","type":"nominal","scale":{"domain":["i","o","v"],"range":["M-0.55,0A0.55,0.55 0 1,0 0.55,0A0.55,0.55 0 1,0 -0.55,0Z","M-1,-1L1,1M-1,1L1,-1","M-7.2,0L7.2,0"]},"legend":{"labelExpr":"datum.value=='i'?['ground truth','(within interval)']:datum.value=='o'?['ground truth','(out of interval)']:'interval'"}},
    "fill":{"field":"s","type":"nominal","scale":{"domain":["i","o","v"],"range":["#000000","#ff0000","#808080"]},"legend":{"labelExpr":"datum.value=='i'?['ground truth','(within interval)']:datum.value=='o'?['ground truth','(out of interval)']:'interval'"}},
    "stroke":{"field":"s","type":"nominal","scale":{"domain":["i","o","v"],"range":["#000000","#ff0000","#808080"]},"legend":{"labelExpr":"datum.value=='i'?['ground truth','(within interval)']:datum.value=='o'?['ground truth','(out of interval)']:'interval'"}}}}
  ]},
 {"width":157,"height":158,"title":{"text":["CQR","PICP:93.75%\u00a0 MPIW:84.96"]},"transform":[{"filter":"datum.m=='Q'"}],
  "encoding":{"x":{"field":"t","type":"quantitative","scale":{"domain":[0,1440],"nice":false,"zero":false},"axis":{"values":[0,360,720,1080,1440],"title":"Time"}}},
  "layer":[
   {"mark":{"type":"area","fill":"#b4b4b4","stroke":"#808080","strokeWidth":1,"clip":true},"encoding":{"y":{"field":"l","type":"quantitative","scale":{"domain":[-33,662],"nice":false,"zero":false},"axis":{"values":[0,200,400,600],"labels":false,"title":null}},"y2":{"field":"u"}}},
   {"mark":{"type":"point","size":16,"opacity":1,"strokeWidth":0.9,"filled":true},"encoding":{"y":{"field":"y","type":"quantitative"},
    "shape":{"field":"s","type":"nominal","scale":{"domain":["i","o","v"],"range":["M-0.55,0A0.55,0.55 0 1,0 0.55,0A0.55,0.55 0 1,0 -0.55,0Z","M-1,-1L1,1M-1,1L1,-1","M-7.2,0L7.2,0"]},"legend":{"labelExpr":"datum.value=='i'?['ground truth','(within interval)']:datum.value=='o'?['ground truth','(out of interval)']:'interval'"}},
    "fill":{"field":"s","type":"nominal","scale":{"domain":["i","o","v"],"range":["#000000","#ff0000","#808080"]},"legend":{"labelExpr":"datum.value=='i'?['ground truth','(within interval)']:datum.value=='o'?['ground truth','(out of interval)']:'interval'"}},
    "stroke":{"field":"s","type":"nominal","scale":{"domain":["i","o","v"],"range":["#000000","#ff0000","#808080"]},"legend":{"labelExpr":"datum.value=='i'?['ground truth','(within interval)']:datum.value=='o'?['ground truth','(out of interval)']:'interval'"}}}}
  ]},
 {"width":157,"height":158,"title":{"text":["QUANTRAFFIC","PICP:96.88%\u00a0 MPIW:83.82"]},"transform":[{"filter":"datum.m=='T'"}],
  "encoding":{"x":{"field":"t","type":"quantitative","scale":{"domain":[0,1440],"nice":false,"zero":false},"axis":{"values":[0,360,720,1080,1440],"title":"Time"}}},
  "layer":[
   {"mark":{"type":"area","fill":"#b4b4b4","stroke":"#808080","strokeWidth":1,"clip":true},"encoding":{"y":{"field":"l","type":"quantitative","scale":{"domain":[-33,662],"nice":false,"zero":false},"axis":{"values":[0,200,400,600],"labels":false,"title":null}},"y2":{"field":"u"}}},
   {"mark":{"type":"point","size":16,"opacity":1,"strokeWidth":0.9,"filled":true},"encoding":{"y":{"field":"y","type":"quantitative"},
    "shape":{"field":"s","type":"nominal","scale":{"domain":["i","o","v"],"range":["M-0.55,0A0.55,0.55 0 1,0 0.55,0A0.55,0.55 0 1,0 -0.55,0Z","M-1,-1L1,1M-1,1L1,-1","M-7.2,0L7.2,0"]},"legend":{"labelExpr":"datum.value=='i'?['ground truth','(within interval)']:datum.value=='o'?['ground truth','(out of interval)']:'interval'"}},
    "fill":{"field":"s","type":"nominal","scale":{"domain":["i","o","v"],"range":["#000000","#ff0000","#808080"]},"legend":{"labelExpr":"datum.value=='i'?['ground truth','(within interval)']:datum.value=='o'?['ground truth','(out of interval)']:'interval'"}},
    "stroke":{"field":"s","type":"nominal","scale":{"domain":["i","o","v"],"range":["#000000","#ff0000","#808080"]},"legend":{"labelExpr":"datum.value=='i'?['ground truth','(within interval)']:datum.value=='o'?['ground truth','(out of interval)']:'interval'"}}}}
  ]}
]
}
